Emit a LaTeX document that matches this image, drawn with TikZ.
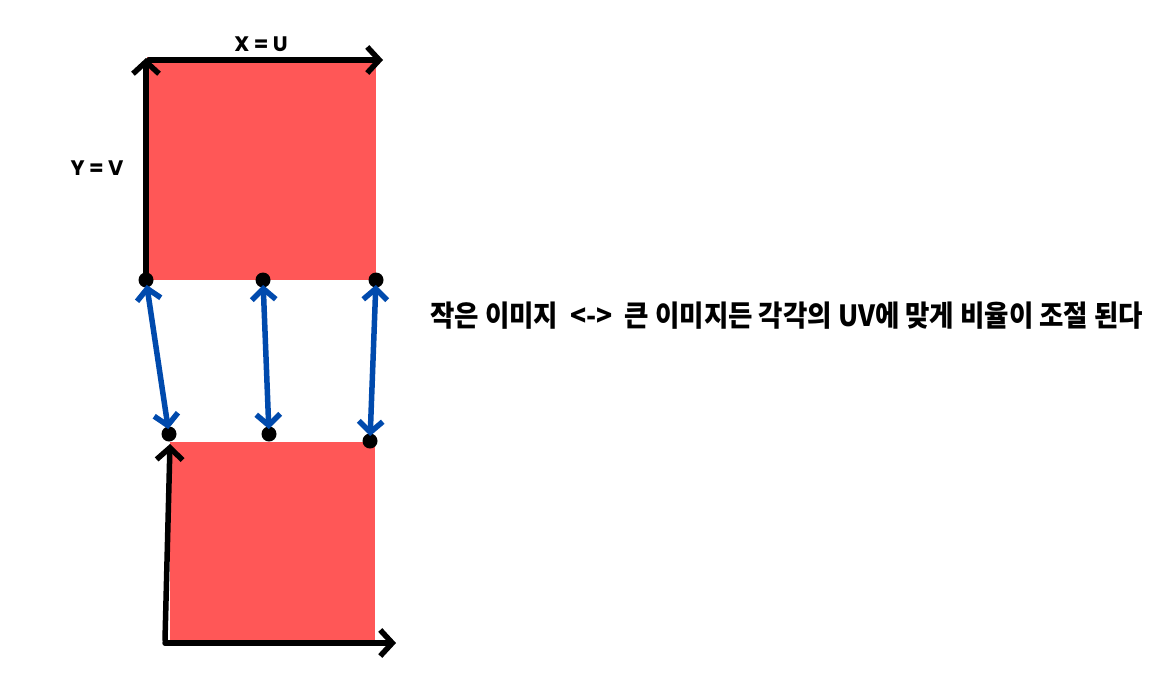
\documentclass[tikz,border=0pt]{standalone}
\usepackage{fontspec}
\setmainfont{Poppins}
\newfontfamily\krfont{Noto Sans CJK KR}
\usetikzlibrary{arrows.meta}
\definecolor{boxred}{HTML}{FF5757}
\definecolor{linkblue}{HTML}{004AAD}
\tikzset{
  axis/.style={line width=5.5pt, black, line cap=round, -{Straight Barb[length=12pt,width=26pt,line width=5.5pt]}},
  link/.style={line width=5.5pt, linkblue, line cap=round, {Straight Barb[length=11pt,width=24pt,line width=5.5pt]}-{Straight Barb[length=11pt,width=24pt,line width=5.5pt]}, shorten <=5pt, shorten >=5pt},
  dot/.style={circle, fill=black, inner sep=0pt, minimum size=15pt},
  lbl/.style={font=\bfseries\fontsize{21}{23}\selectfont, inner sep=0pt}
}
\begin{document}
\begin{tikzpicture}[x=1pt,y=-1pt]
\useasboundingbox (0,0) rectangle (1162,678);
% boxes
\fill[boxred] (147,57) rectangle (376,280);
\fill[boxred] (170,442) rectangle (375,640);
% top axes
\coordinate (tO) at (146,280);
\coordinate (tY) at (146,58);
\coordinate (tXs) at (149,60);
\coordinate (tX) at (383,60);
\draw[axis] (tO) -- (tY);
\draw[axis] (tXs) -- (tX);
\node[lbl] (xu) at (261,44) {X = U};
\node[lbl] (yv) at (97,168) {Y = V};
% bottom axes
\coordinate (bO) at (165,640);
\coordinate (bY) at (170,444);
\coordinate (bXs) at (165,643);
\coordinate (bX) at (396,643);
\draw[axis] (bO) -- (bY);
\draw[axis] (bXs) -- (bX);
% dots
\node[dot] (a1) at (146,280) {};
\node[dot] (a2) at (263,280) {};
\node[dot] (a3) at (376,280) {};
\node[dot] (b1) at (169,434) {};
\node[dot] (b2) at (269,434) {};
\node[dot] (b3) at (370,441) {};
% links
\draw[link] (a1.center) -- (b1.center);
\draw[link] (a2.center) -- (b2.center);
\draw[link] (a3.center) -- (b3.center);
% caption
\node[anchor=west, inner sep=0pt, yscale=1.1, font=\krfont\bfseries\fontsize{26.5}{28}\selectfont] (cap) at (430,316) {작은 이미지 \ <->\ \ 큰 이미지든 각각의 UV에 맞게 비율이 조절 된다};
\end{tikzpicture}
\end{document}
